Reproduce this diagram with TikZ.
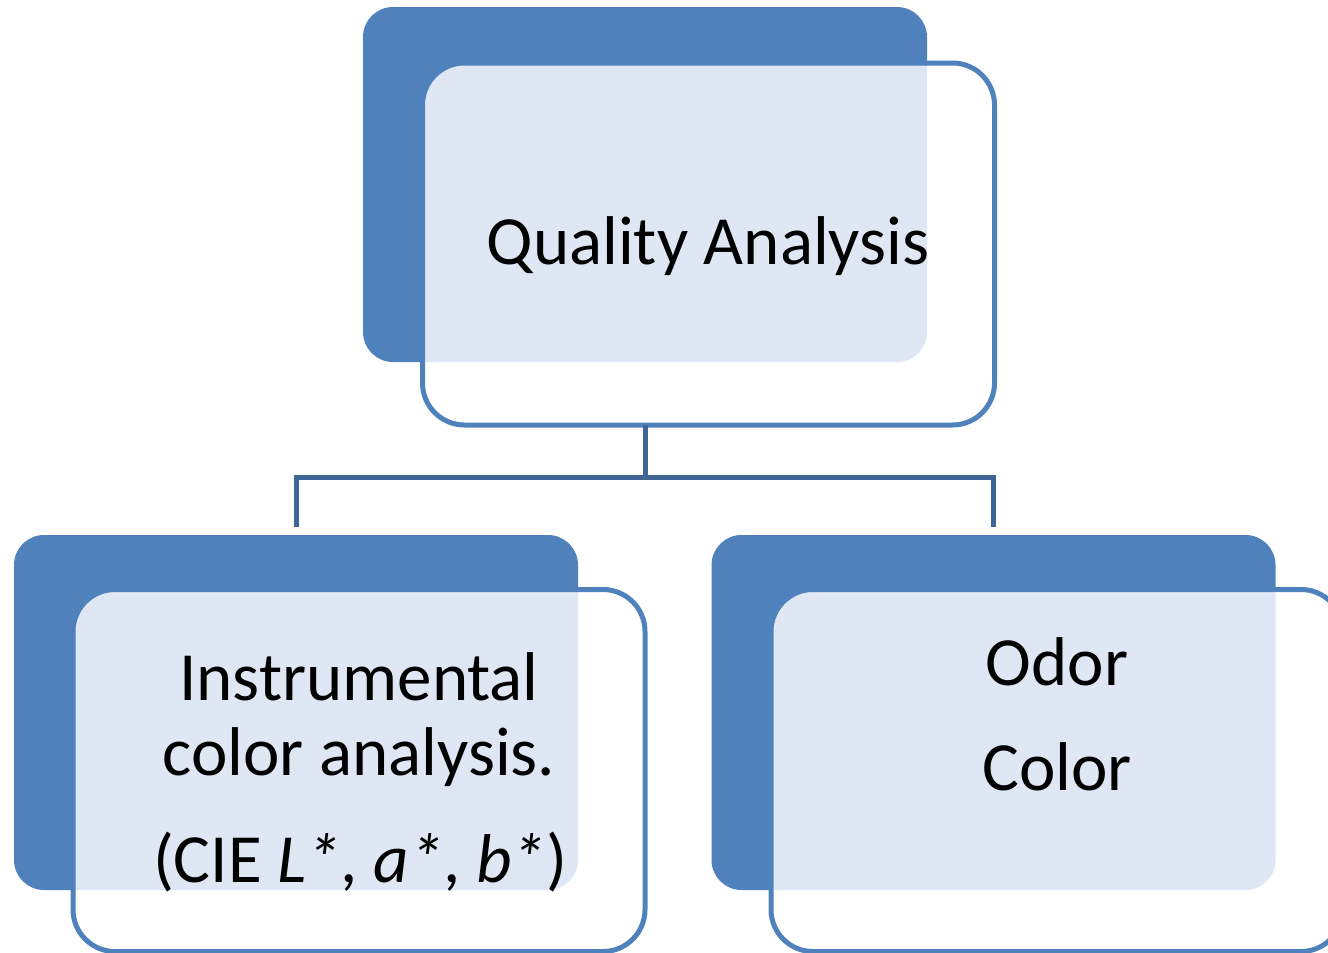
\documentclass[tikz,border=0pt]{standalone}
\usepackage{fontspec}
\setmainfont{Carlito}
\definecolor{qblue}{RGB}{79,129,189}
\definecolor{qconn}{RGB}{62,101,150}
\definecolor{qlight}{RGB}{222,231,243}
\begin{document}
\begin{tikzpicture}[x=1pt,y=-1pt,
  darkbox/.style={fill=qblue, draw=none, rounded corners=30pt, inner sep=0pt, outer sep=0pt,
    minimum width=564pt, minimum height=355pt},
  whitebox/.style={draw=none, fill=white, rounded corners=42pt, inner sep=0pt, outer sep=0pt,
    minimum width=572pt, minimum height=362pt},
  wborder/.style={draw=qblue, line width=5pt, rounded corners=42pt},
  conn/.style={draw=qconn, line width=5pt},
  label/.style={anchor=base, inner sep=0pt, font=\fontsize{69}{75}\selectfont}
]
\useasboundingbox (0,0) rectangle (1328,953);
\clip (0,0) rectangle (1328,953);

% dark background boxes
\node[darkbox] (qaD) at (645,184.5) {};
\node[darkbox] (ciD) at (296,712.5) {};
\node[darkbox] (ocD) at (993.5,712.5) {};

% white boxes (fill only, border later)
\node[whitebox] (qaW) at (708.5,244) {};
\node[whitebox] (ciW) at (359,770.5) {};
\node[whitebox] (ocW) at (1057,770.5) {};

% light overlap regions
\foreach \d/\w in {qaD/qaW, ciD/ciW, ocD/ocW}{
  \begin{scope}
    \clip[rounded corners=30pt] (\d.north west) rectangle (\d.south east);
    \fill[qlight, rounded corners=42pt] (\w.north west) rectangle (\w.south east);
  \end{scope}
}

% white box borders
\draw[wborder] (qaW.north west) rectangle (qaW.south east);
\draw[wborder] (ciW.north west) rectangle (ciW.south east);
\draw[wborder] (ocW.north west) rectangle (ocW.south east);

% connectors
\coordinate (bus) at (645,477);
\coordinate (ciTop) at (296,527);
\coordinate (ocTop) at (993.5,527);
\draw[conn] (qaD.center |- qaW.south) -- (bus) -| (ciTop);
\draw[conn] (bus) -| (ocTop);

% texts
\node[label] (tqa) at (708,264) {Quality Analysis};
\node[label] (tci1) at (359,700) {Instrumental};
\node[label] (tci2) at (359,775) {color analysis.};
\node[label] (tci3) at (360,882) {(CIE \textit{L*}, \textit{a*}, \textit{b*})};
\node[label] (toc1) at (1057,685) {Odor};
\node[label] (toc2) at (1057,790) {Color};
\end{tikzpicture}
\end{document}
